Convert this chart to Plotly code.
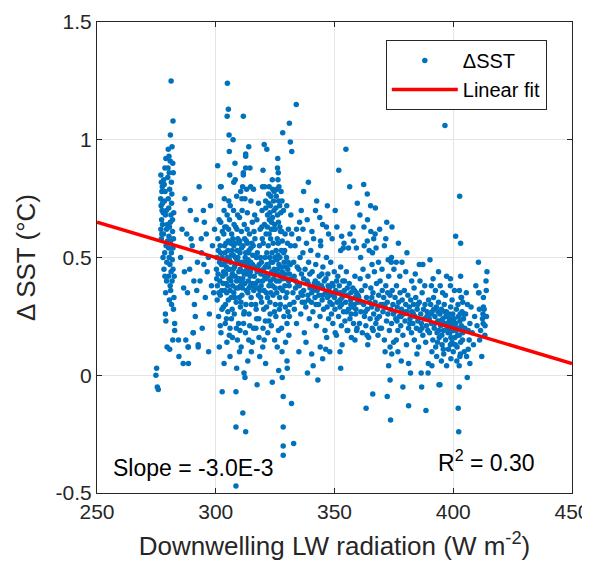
import plotly.graph_objects as go

# ---- Data: (Downwelling LW radiation [W m-2], delta SST [degC]) ----
band_275_284 = [
    (275.1, 0.03), (274.8, 0.00), (275.4, -0.05), (275.8, -0.06),
    (276.9, 0.85), (277.1, 0.82), (277.3, 0.78), (276.8, 0.75), (277.0, 0.72), (277.4, 0.70), (277.2, 0.66),
    (276.9, 0.62), (277.5, 0.80), (277.1, 0.58),
    (278.2, 0.45), (278.5, 0.52), (278.0, 0.60), (278.8, 0.68), (278.4, 0.74), (279.0, 0.92), (278.6, 0.88),
    (279.3, 0.40), (278.9, 0.35), (279.1, 0.55),
    (280.0, 0.96), (280.3, 0.93), (279.8, 0.84), (280.6, 0.79), (280.2, 0.71), (280.9, 0.65), (280.5, 0.63),
    (281.0, 0.57), (280.4, 0.50), (280.7, 0.47), (281.2, 0.44), (280.1, 0.42), (280.8, 0.38), (281.4, 0.30),
    (281.6, 0.97), (281.9, 0.90), (282.1, 0.86), (281.5, 0.77), (282.3, 0.69), (281.8, 0.61), (282.0, 0.54),
    (281.7, 0.49), (282.4, 0.33), (282.2, 0.28),
    (279.0, 0.23), (282.7, 0.22), (282.7, 0.19), (281.9, 0.15), (284.3, 0.15),
    (281.2, 1.25), (282.0, 1.08), (280.9, 1.02),
    (278.8, 0.26), (279.5, 0.12), (277.8, 0.50), (280.6, 0.11),
    (279.6, 0.64), (280.0, 0.75), (281.3, 0.82), (279.9, 0.88), (278.3, 0.81), (277.6, 0.64), (280.3, 0.59),
    (281.1, 0.68), (279.4, 0.48), (282.5, 0.42),
    (277.3, 0.60), (277.6, 0.73), (278.1, 0.83), (278.7, 0.78), (279.2, 0.70), (279.7, 0.57), (280.4, 0.86),
    (280.8, 0.91), (281.4, 0.73), (281.8, 0.66), (282.2, 0.58), (282.0, 0.45), (281.3, 0.52), (280.2, 0.54),
    (279.3, 0.62), (278.6, 0.42), (277.9, 0.69), (281.0, 0.36), (280.5, 0.32), (281.6, 0.40),
]

band_284_300 = [
    (284.5, 0.08), (285.2, 0.50), (285.8, 0.62), (286.3, 0.05), (286.5, 0.37), (287.0, 0.75), (287.4, 0.15),
    (288.1, 0.35), (288.4, 0.12), (288.5, 0.05), (289.0, 0.45), (289.6, 0.58), (290.1, 0.55), (290.5, 0.18),
    (291.0, 0.30), (291.4, 0.25), (291.8, 0.66), (292.3, 0.48), (292.6, 0.12), (293.0, 0.80), (293.4, 0.40),
    (293.9, 0.58), (294.3, 0.20), (294.8, 0.70), (295.2, 0.65), (295.6, 0.33), (296.0, 0.60), (296.4, 0.44),
    (296.9, 0.50), (297.3, 0.26), (297.8, 0.72), (298.2, 0.38), (298.6, 0.55), (299.1, 0.35), (299.5, 0.62),
    (287.8, 0.60), (290.8, 0.40), (294.0, 0.52), (297.0, 0.10), (289.3, 0.70), (286.8, 0.44), (292.0, 0.36),
    (295.0, 0.47), (290.5, 0.18), (288.4, 0.12), (292.6, 0.13),
]

band_300_316 = [
    (304.9, 1.24), (305.3, 1.13), (304.8, 1.10), (311.6, 1.10), (305.6, 1.02), (307.3, 1.00), (305.7, 0.95),
    (313.9, 0.97), (312.6, 0.94), (312.6, 0.93), (300.8, 0.89), (312.6, 0.88), (314.4, 0.88), (311.6, 0.86),
    (311.6, 0.85), (308.2, 0.83), (302.0, 0.80), (302.3, 0.80), (311.3, 0.80), (313.0, 0.79), (314.7, 0.80),
    (315.9, 0.79), (308.8, 0.76), (311.0, 0.75), (314.8, 0.74), (305.5, 0.74),
    (308.5, -0.47), (302.7, -0.07), (308.5, -0.07), (311.4, -0.16), (308.5, -0.22), (312.6, -0.24),
    (308.8, 0.03), (311.9, 0.01), (312.3, -0.01), (303.5, 0.05), (306.0, 0.08), (310.0, 0.10), (313.5, 0.06),
    (301.5, 0.12), (315.0, 0.10),
    (300.3, 0.45), (300.6, 0.32), (300.9, 0.58), (301.2, 0.25), (301.4, 0.66), (301.7, 0.40), (302.0, 0.52),
    (302.2, 0.18), (302.5, 0.36), (302.8, 0.61), (303.0, 0.47), (303.2, 0.29), (303.5, 0.70), (303.7, 0.55),
    (304.0, 0.22), (304.2, 0.43), (304.4, 0.63), (304.6, 0.35), (304.9, 0.50), (305.1, 0.27), (305.3, 0.57),
    (305.6, 0.41), (305.8, 0.66), (306.0, 0.20), (306.2, 0.48), (306.5, 0.33), (306.7, 0.60), (306.9, 0.53),
    (307.1, 0.38), (307.3, 0.45), (307.5, 0.70), (307.8, 0.26), (308.0, 0.56), (308.2, 0.42), (308.4, 0.63),
    (308.6, 0.31), (308.9, 0.49), (309.1, 0.15), (309.3, 0.58), (309.5, 0.37), (309.7, 0.44), (310.0, 0.67),
    (310.2, 0.52), (310.4, 0.29), (310.6, 0.40), (310.8, 0.61), (311.0, 0.34), (311.3, 0.47), (311.5, 0.55),
    (311.7, 0.22), (312.0, 0.64), (312.2, 0.39), (312.4, 0.50), (312.7, 0.30), (312.9, 0.57), (313.1, 0.45),
    (313.3, 0.69), (313.5, 0.35), (313.8, 0.52), (314.0, 0.26), (314.2, 0.60), (314.5, 0.42), (314.7, 0.48),
    (314.9, 0.33), (315.2, 0.56), (315.4, 0.65), (315.7, 0.38), (315.9, 0.20),
    (300.5, 0.50), (301.0, 0.43), (301.8, 0.55), (302.4, 0.47), (303.1, 0.39), (303.9, 0.52), (304.5, 0.46),
    (305.0, 0.38), (305.7, 0.49), (306.3, 0.56), (306.8, 0.42), (307.4, 0.51), (307.9, 0.46), (308.5, 0.37),
    (309.0, 0.53), (309.6, 0.48), (310.3, 0.45), (310.9, 0.54), (311.4, 0.41), (312.1, 0.48), (312.8, 0.43),
    (313.4, 0.56), (314.1, 0.46), (314.8, 0.54), (315.5, 0.47),
    (301.3, 0.35), (302.6, 0.28), (303.4, 0.60), (304.1, 0.30), (305.4, 0.62), (306.6, 0.24), (307.7, 0.64),
    (308.7, 0.20), (309.9, 0.33), (311.1, 0.70), (312.5, 0.18), (313.7, 0.40), (315.0, 0.30), (306.1, 0.72),
    (309.2, 0.68), (312.3, 0.75), (304.7, 0.14), (310.7, 0.12), (307.0, 0.16), (313.9, 0.15), (303.6, 0.75),
    (305.9, 0.85), (308.1, 0.90), (310.5, 0.78), (307.6, 0.82),
    (300.7, 0.38), (301.6, 0.48), (302.9, 0.42), (303.8, 0.36), (304.3, 0.56), (305.2, 0.45), (306.4, 0.40),
    (307.2, 0.58), (308.3, 0.50), (309.4, 0.41), (310.1, 0.57), (311.2, 0.37), (312.6, 0.52), (313.6, 0.49),
    (314.6, 0.38), (315.6, 0.51), (302.1, 0.65), (304.8, 0.68), (307.6, 0.35), (310.6, 0.31), (313.2, 0.62),
    (305.3, 0.32), (308.9, 0.62), (312.0, 0.27),
    (300.4, 0.41), (301.1, 0.53), (301.9, 0.34), (302.7, 0.50), (303.3, 0.44), (303.8, 0.63), (304.4, 0.39),
    (305.1, 0.53), (305.9, 0.45), (306.5, 0.51), (307.0, 0.43), (307.6, 0.55), (308.2, 0.47), (308.8, 0.40),
    (309.3, 0.50), (309.8, 0.56), (310.4, 0.38), (310.9, 0.48), (311.5, 0.44), (312.2, 0.58), (312.9, 0.36),
    (313.4, 0.47), (314.0, 0.53), (314.6, 0.44), (315.3, 0.39), (315.8, 0.55), (304.0, 0.48), (306.0, 0.36),
    (308.0, 0.33), (310.0, 0.41), (312.0, 0.43), (314.0, 0.37),
    (301.9, 0.21), (304.5, 0.24), (306.9, 0.28), (309.6, 0.22), (311.8, 0.26), (314.3, 0.21), (305.7, 0.17),
    (310.2, 0.19), (315.4, 0.14),
]

band_316_332 = [
    (320.4, 0.98), (321.5, 0.96), (326.1, 0.92), (326.0, 0.88), (326.3, 0.86), (319.9, 0.87), (323.8, 0.83),
    (326.2, 0.83), (319.7, 0.80), (320.6, 0.80), (328.2, 1.03), (331.0, 1.07), (331.4, 0.99), (333.9, 1.15),
    (332.0, 0.95),
    (328.4, -0.09), (328.4, -0.22), (328.4, -0.30), (332.8, -0.29), (328.4, -0.34), (323.8, -0.03),
    (317.4, -0.04), (328.0, -0.01), (321.0, 0.05), (331.9, -0.12), (326.5, 0.02), (318.5, 0.08), (330.0, 0.06),
    (316.2, 0.42), (316.5, 0.58), (316.8, 0.30), (317.1, 0.50), (317.3, 0.66), (317.6, 0.37), (317.9, 0.45),
    (318.1, 0.24), (318.4, 0.55), (318.7, 0.62), (318.9, 0.33), (319.2, 0.48), (319.5, 0.70), (319.7, 0.40),
    (320.0, 0.56), (320.2, 0.28), (320.5, 0.64), (320.8, 0.46), (321.0, 0.74), (321.3, 0.35), (321.5, 0.52),
    (321.8, 0.68), (322.0, 0.42), (322.3, 0.77), (322.5, 0.60), (322.8, 0.31), (323.0, 0.72), (323.3, 0.48),
    (323.5, 0.65), (323.8, 0.38), (324.0, 0.79), (324.2, 0.56), (324.5, 0.70), (324.7, 0.27), (325.0, 0.62),
    (325.2, 0.44), (325.5, 0.76), (325.7, 0.35), (326.0, 0.68), (326.2, 0.51), (326.5, 0.74), (326.7, 0.40),
    (327.0, 0.63), (327.2, 0.30), (327.5, 0.78), (327.7, 0.46), (328.0, 0.57), (328.2, 0.36), (328.5, 0.70),
    (328.7, 0.25), (329.0, 0.43), (329.2, 0.60), (329.5, 0.33), (329.8, 0.50), (330.0, 0.22), (330.3, 0.45),
    (330.6, 0.62), (330.9, 0.38), (331.2, 0.30), (331.5, 0.55), (331.8, 0.41),
    (316.9, 0.20), (318.2, 0.16), (319.8, 0.12), (321.9, 0.18), (323.4, 0.21), (324.8, 0.15), (326.4, 0.19),
    (327.9, 0.10), (329.4, 0.14), (330.8, 0.17),
    (317.5, 0.52), (319.0, 0.43), (320.7, 0.50), (322.1, 0.55), (323.6, 0.44), (324.9, 0.50), (326.6, 0.47),
    (327.6, 0.53), (329.1, 0.38), (330.5, 0.48), (322.6, 0.66), (324.4, 0.62), (325.9, 0.58), (327.4, 0.69),
    (323.1, 0.58), (325.4, 0.53), (321.2, 0.60), (328.8, 0.48), (318.0, 0.73), (329.9, 0.72), (331.6, 0.68),
    (316.4, 0.68), (320.3, 0.36), (325.1, 0.30), (327.1, 0.37), (322.9, 0.26), (326.8, 0.28), (324.1, 0.34),
    (328.3, 0.41), (331.0, 0.25), (316.0, 0.36), (317.0, 0.28), (319.3, 0.31), (320.9, 0.23), (323.2, 0.35),
    (326.9, 0.33),
    (316.6, 0.46), (317.8, 0.40), (318.8, 0.50), (319.6, 0.58), (320.6, 0.42), (321.6, 0.47), (322.4, 0.38),
    (323.7, 0.52), (324.6, 0.45), (325.6, 0.40), (326.3, 0.56), (327.3, 0.43), (328.6, 0.52), (329.6, 0.46),
    (330.7, 0.40), (331.4, 0.47), (316.1, 0.61), (318.6, 0.36), (321.4, 0.29), (324.3, 0.41), (327.8, 0.61),
    (330.2, 0.56), (319.4, 0.63), (322.7, 0.50), (326.1, 0.43), (329.3, 0.29),
    (321.1, 0.71), (321.7, 0.63), (322.2, 0.73), (322.8, 0.69), (323.2, 0.76), (323.9, 0.67), (324.3, 0.74),
    (324.8, 0.64), (325.3, 0.71), (325.8, 0.79), (326.4, 0.65), (326.9, 0.72), (327.3, 0.61), (327.9, 0.74),
    (322.5, 0.80), (324.6, 0.78), (326.6, 0.80), (323.4, 0.62),
    (316.7, 0.39), (317.4, 0.44), (318.3, 0.47), (319.1, 0.38), (320.1, 0.45), (321.1, 0.41), (322.2, 0.46),
    (323.0, 0.40), (324.0, 0.48), (325.0, 0.37), (326.0, 0.45), (327.0, 0.50), (328.0, 0.44), (329.0, 0.53),
    (330.0, 0.35), (331.0, 0.43), (318.0, 0.34), (321.8, 0.33), (325.8, 0.49), (329.7, 0.41),
    (317.2, 0.24), (319.9, 0.20), (322.4, 0.23), (325.3, 0.25), (327.7, 0.20), (330.4, 0.27), (320.4, 0.15),
    (325.9, 0.12),
]

band_332_360 = [
    (354.8, 0.96), (351.8, 0.87), (356.4, 0.80), (350.3, 0.70), (345.0, 0.64), (346.6, 0.63), (357.8, 0.63),
    (335.3, 0.65), (336.7, 0.62), (332.0, 0.60), (353.0, 0.59), (344.1, 0.57), (353.7, 0.54), (355.9, 0.54),
    (359.2, 0.54), (352.6, 0.53), (359.6, 0.73), (339.0, 0.82), (337.0, 0.78), (347.0, 0.72), (342.0, 0.70),
    (338.6, 0.01), (343.0, -0.02), (341.0, 0.04), (345.0, 0.07), (348.0, 0.10), (352.6, 0.03), (330.1, 0.03),
    (346.3, 0.11), (346.7, 0.16), (350.3, 0.18), (352.3, 0.10), (353.2, 0.13), (355.6, 0.19), (358.6, 0.15),
    (359.3, 0.19), (340.4, 0.09), (344.0, 0.12), (338.0, 0.14), (335.0, 0.10),
    (332.5, 0.35), (332.8, 0.48), (333.1, 0.28), (333.4, 0.55), (333.7, 0.40), (334.0, 0.22), (334.3, 0.46),
    (334.6, 0.33), (334.9, 0.58), (335.2, 0.38), (335.5, 0.50), (335.8, 0.26), (336.1, 0.43), (336.4, 0.31),
    (336.7, 0.52), (337.0, 0.36), (337.3, 0.18), (337.6, 0.45), (337.9, 0.29), (338.2, 0.56), (338.5, 0.40),
    (338.8, 0.34), (339.1, 0.48), (339.4, 0.24), (339.7, 0.37), (340.0, 0.53), (340.3, 0.31), (340.6, 0.44),
    (340.9, 0.27), (341.2, 0.58), (341.5, 0.39), (341.8, 0.33), (342.1, 0.47), (342.4, 0.21), (342.7, 0.36),
    (343.0, 0.51), (343.3, 0.30), (343.6, 0.42), (343.9, 0.25), (344.2, 0.55), (344.5, 0.38), (344.8, 0.32),
    (345.1, 0.46), (345.4, 0.28), (345.7, 0.40), (346.0, 0.19), (346.3, 0.35), (346.6, 0.50), (346.9, 0.29),
    (347.2, 0.43), (347.5, 0.24), (347.8, 0.37), (348.1, 0.31), (348.4, 0.48), (348.7, 0.26), (349.0, 0.39),
    (349.3, 0.22), (349.6, 0.34), (349.9, 0.44), (350.2, 0.28), (350.5, 0.36), (350.8, 0.17), (351.1, 0.31),
    (351.4, 0.42), (351.7, 0.25), (352.0, 0.38), (352.3, 0.29), (352.6, 0.46), (352.9, 0.21), (353.2, 0.33),
    (353.5, 0.40), (353.8, 0.27), (354.1, 0.36), (354.4, 0.23), (354.7, 0.31), (355.0, 0.44), (355.3, 0.19),
    (355.6, 0.34), (355.9, 0.28), (356.2, 0.39), (356.5, 0.24), (356.8, 0.32), (357.1, 0.16), (357.4, 0.29),
    (357.7, 0.37), (358.0, 0.22), (358.3, 0.30), (358.6, 0.42), (358.9, 0.26), (359.2, 0.35), (359.5, 0.20),
    (359.8, 0.31),
    (334.0, 0.62), (336.0, 0.70), (338.5, 0.66), (340.5, 0.61), (342.5, 0.74), (343.8, 0.67), (347.5, 0.60),
    (349.0, 0.58), (351.0, 0.63), (354.0, 0.56), (356.5, 0.60), (358.0, 0.57),
    (333.0, 0.42), (335.0, 0.45), (337.0, 0.41), (339.0, 0.32), (341.0, 0.36), (343.0, 0.39), (345.0, 0.34),
    (347.0, 0.33), (349.0, 0.30), (351.0, 0.35), (353.0, 0.30), (355.0, 0.27), (357.0, 0.26), (359.0, 0.28),
    (333.6, 0.37), (336.5, 0.34), (339.6, 0.43), (342.2, 0.30), (344.7, 0.43), (347.3, 0.38), (350.0, 0.33),
    (352.5, 0.35), (354.2, 0.40), (356.9, 0.35), (358.7, 0.33),
    (332.9, 0.31), (334.4, 0.39), (335.9, 0.35), (337.4, 0.31), (338.9, 0.39), (340.4, 0.35), (341.9, 0.40),
    (343.4, 0.34), (344.9, 0.37), (346.4, 0.41), (347.9, 0.34), (349.4, 0.38), (350.9, 0.40), (352.4, 0.32),
    (353.9, 0.34), (355.4, 0.37), (356.9, 0.30), (358.4, 0.36), (359.9, 0.34),
]

band_360_390 = [
    (362.3, 0.81), (363.8, 0.77), (365.2, 0.72), (367.2, 0.71), (360.7, 0.68), (363.9, 0.66), (362.4, 0.63),
    (374.2, 0.63), (365.3, 0.61), (367.1, 0.60), (371.6, 0.58), (363.8, 0.57), (376.9, 0.56), (364.6, 0.53),
    (367.5, 0.54), (372.6, 0.49), (373.9, 0.48), (365.8, 0.47), (378.4, 0.48), (385.7, 0.47), (387.2, 0.47),
    (374.0, 0.50),
    (360.2, 0.33), (360.5, 0.22), (360.8, 0.41), (361.1, 0.27), (361.4, 0.36), (361.7, 0.18), (362.0, 0.45),
    (362.3, 0.30), (362.6, 0.25), (362.9, 0.38), (363.2, 0.21), (363.5, 0.33), (363.8, 0.28), (364.1, 0.42),
    (364.4, 0.16), (364.7, 0.31), (365.0, 0.24), (365.3, 0.37), (365.6, 0.29), (365.9, 0.20), (366.2, 0.35),
    (366.5, 0.26), (366.8, 0.44), (367.1, 0.31), (367.4, 0.22), (367.7, 0.39), (368.0, 0.28), (368.3, 0.17),
    (368.6, 0.34), (368.9, 0.25), (369.2, 0.40), (369.5, 0.30), (369.8, 0.20), (370.1, 0.36), (370.4, 0.27),
    (370.7, 0.33), (371.0, 0.15), (371.3, 0.29), (371.6, 0.38), (371.9, 0.23), (372.2, 0.31), (372.5, 0.26),
    (372.8, 0.42), (373.1, 0.19), (373.4, 0.34), (373.7, 0.28), (374.0, 0.22), (374.3, 0.36), (374.6, 0.30),
    (374.9, 0.14), (375.2, 0.27), (375.5, 0.33), (375.8, 0.24), (376.1, 0.38), (376.4, 0.29), (376.7, 0.19),
    (377.0, 0.31), (377.3, 0.25), (377.6, 0.35), (377.9, 0.21), (378.2, 0.28), (378.5, 0.32), (378.8, 0.17),
    (379.1, 0.26), (379.4, 0.36), (379.7, 0.23), (380.0, 0.30), (380.3, 0.13), (380.6, 0.27), (380.9, 0.34),
    (381.2, 0.20), (381.5, 0.29), (381.8, 0.24), (382.1, 0.32), (382.4, 0.18), (382.7, 0.27), (383.0, 0.22),
    (383.3, 0.30), (383.6, 0.15), (383.9, 0.25), (384.2, 0.33), (384.5, 0.20), (384.8, 0.28), (385.1, 0.23),
    (385.4, 0.12), (385.7, 0.31), (386.0, 0.19), (386.3, 0.26), (386.6, 0.22), (386.9, 0.35), (387.2, 0.17),
    (387.5, 0.28), (387.8, 0.24), (388.1, 0.30), (388.4, 0.14), (388.7, 0.21), (389.0, 0.27), (389.3, 0.19),
    (389.6, 0.32), (389.9, 0.24),
    (373.4, -0.02), (366.1, -0.08), (363.3, -0.14), (372.2, -0.09), (373.6, -0.19), (381.2, -0.13),
    (378.8, -0.05), (386.7, -0.05), (388.5, -0.15), (382.0, 0.01), (386.5, 0.01), (389.4, 0.01), (372.8, 0.04),
    (378.1, 0.06), (381.2, 0.05), (384.7, 0.09), (389.5, 0.05), (364.0, 0.13), (371.3, 0.10), (374.1, 0.09),
    (376.7, 0.10), (373.4, 0.12), (376.0, 0.15), (363.7, 0.17), (366.3, 0.19), (369.0, 0.20),
    (361.0, 0.50), (362.5, 0.55), (366.0, 0.52), (368.5, 0.48), (370.0, 0.45), (371.0, 0.55), (375.0, 0.45),
    (377.5, 0.42), (380.0, 0.44), (382.5, 0.40), (384.0, 0.43), (386.0, 0.40), (388.0, 0.38), (369.0, 0.62),
    (372.0, 0.65), (366.5, 0.58), (380.5, 0.52), (383.5, 0.37), (376.0, 0.48),
    (361.2, 0.31), (363.0, 0.27), (365.7, 0.33), (367.9, 0.24), (370.5, 0.30), (372.4, 0.35), (374.8, 0.26),
    (376.3, 0.23), (378.0, 0.25), (379.9, 0.27), (381.7, 0.22), (383.2, 0.26), (385.0, 0.30), (386.8, 0.20),
    (388.9, 0.25),
]

band_390_405 = [
    (396.5, 1.06), (402.7, 0.76), (401.0, 0.59), (403.1, 0.56), (390.2, 0.49), (397.2, 0.42), (398.8, 0.41),
    (403.1, 0.42), (390.8, 0.38), (398.8, 0.38), (395.5, 0.35), (402.6, 0.36), (403.5, 0.33), (403.3, 0.33),
    (402.5, 0.04), (402.5, -0.05), (402.1, -0.14), (402.3, -0.24), (394.4, -0.04), (397.2, 0.04), (391.0, 0.04),
    (402.8, 0.08), (394.0, -0.04),
    (390.5, 0.30), (390.8, 0.22), (391.1, 0.27), (391.4, 0.15), (391.7, 0.33), (392.0, 0.20), (392.3, 0.25),
    (392.6, 0.12), (392.9, 0.29), (393.2, 0.18), (393.5, 0.23), (393.8, 0.31), (394.1, 0.16), (394.4, 0.26),
    (394.7, 0.21), (395.0, 0.28), (395.3, 0.13), (395.6, 0.24), (395.9, 0.19), (396.2, 0.30), (396.5, 0.22),
    (396.8, 0.15), (397.1, 0.27), (397.4, 0.20), (397.7, 0.25), (398.0, 0.11), (398.3, 0.23), (398.6, 0.18),
    (398.9, 0.29), (399.2, 0.21), (399.5, 0.14), (399.8, 0.26), (400.1, 0.19), (400.4, 0.24), (400.7, 0.16),
    (401.0, 0.22), (401.3, 0.28), (401.6, 0.12), (401.9, 0.20), (402.2, 0.25), (402.5, 0.17), (402.8, 0.23),
    (403.1, 0.14), (403.4, 0.21), (403.7, 0.27), (404.0, 0.18), (404.3, 0.24), (404.6, 0.10), (404.9, 0.20),
    (391.0, 0.10), (393.0, 0.08), (395.0, 0.06), (396.0, 0.09), (399.0, 0.07), (400.0, 0.10), (401.5, 0.06),
    (403.0, 0.09), (392.5, 0.36), (394.5, 0.38), (396.7, 0.34), (399.5, 0.32), (400.5, 0.36), (404.0, 0.31),
    (391.5, 0.41), (393.8, 0.44), (397.8, 0.18), (399.0, 0.16), (400.8, 0.20), (395.2, 0.17), (393.6, 0.27),
    (398.2, 0.26), (402.0, 0.30), (390.0, 0.18),
    (390.6, 0.26), (392.2, 0.22), (393.9, 0.19), (395.4, 0.22), (396.9, 0.25), (398.5, 0.20), (400.2, 0.22),
    (401.8, 0.17), (403.6, 0.19), (404.5, 0.26), (391.8, 0.28), (394.2, 0.23), (396.4, 0.27), (397.9, 0.22),
    (399.4, 0.24), (401.2, 0.19), (402.9, 0.26), (393.4, 0.14), (395.8, 0.11), (398.8, 0.13), (400.9, 0.13),
    (403.9, 0.15),
]

band_405_415 = [
    (405.6, 0.08), (407.0, 0.05), (405.9, -0.01), (407.5, 0.29), (412.7, 0.29), (413.0, 0.28), (412.5, 0.26),
    (412.3, 0.24), (412.6, 0.22), (413.4, 0.21), (413.3, 0.17), (411.5, 0.19), (412.0, 0.08), (411.1, 0.15),
    (407.0, 0.22), (406.3, 0.19), (406.7, 0.15), (406.3, 0.11), (410.6, 0.48), (410.7, 0.35), (413.9, 0.36),
    (412.7, 0.33), (410.8, 0.35), (405.2, 0.26), (406.0, 0.30), (408.0, 0.18), (409.0, 0.25), (410.0, 0.21),
    (411.0, 0.28), (413.8, 0.40), (414.2, 0.44), (408.5, 0.13), (409.5, 0.38), (414.0, 0.25), (405.5, 0.35),
]

# Linear fit parameters (from the figure annotation)
fit_slope = -3.0e-3
fit_intercept = 1.40
fit_x_range = [250, 450]

x_ticks = [250, 300, 350, 400, 450]
y_ticks = [-0.5, 0, 0.5, 1, 1.5]
y_tick_labels = ["-0.5", "0", "0.5", "1", "1.5"]

# ---- Build figure ----
all_points = (band_275_284 + band_284_300 + band_300_316 + band_316_332 +
              band_332_360 + band_360_390 + band_390_405 + band_405_415)
sst_x = [p[0] for p in all_points]
sst_y = [p[1] for p in all_points]
fit_y = [fit_intercept + fit_slope * xv for xv in fit_x_range]

FONT = "Liberation Sans, Arial, Helvetica, sans-serif"
AX = "#262626"

fig = go.Figure()
fig.add_trace(go.Scatter(
    x=sst_x, y=sst_y, mode="markers", name="ΔSST",
    marker=dict(size=5.5, color="#0072BD", line=dict(width=0)),
))
fig.add_trace(go.Scatter(
    x=fit_x_range, y=fit_y, mode="lines", name="Linear fit",
    line=dict(color="#FF0000", width=3.5),
))

axis_common = dict(
    showline=True, linecolor=AX, linewidth=1, mirror="ticks",
    ticks="inside", ticklen=5, tickcolor=AX, tickwidth=1,
    showgrid=True, gridcolor="#E4E4E4", gridwidth=1,
    zeroline=False, automargin=False,
    tickfont=dict(family=FONT, size=21, color=AX),
)

fig.update_xaxes(
    range=[250, 450], tickvals=x_ticks, ticktext=[str(v) for v in x_ticks],
    title=dict(text="Downwelling LW radiation (W m<sup>-2</sup>)",
               font=dict(family=FONT, size=26, color=AX), standoff=14),
    **axis_common,
)
fig.update_yaxes(
    range=[-0.5, 1.5], tickvals=y_ticks, ticktext=y_tick_labels,
    title=dict(text="Δ SST (°C)", font=dict(family=FONT, size=26, color=AX), standoff=12),
    **axis_common,
)

fig.add_annotation(
    xref="paper", yref="paper", x=0.03, y=0.053, xanchor="left", yanchor="middle",
    text="Slope = -3.0E-3", showarrow=False, font=dict(family=FONT, size=23, color="#000000"),
)
fig.add_annotation(
    xref="paper", yref="paper", x=0.714, y=0.069, xanchor="left", yanchor="middle",
    text="R<sup>2</sup> = 0.30", showarrow=False, font=dict(family=FONT, size=23, color="#000000"),
)

# The page body has an 8 px margin, so the figure is sized to the remaining area.
fig.update_layout(
    width=582, height=561,
    margin=dict(l=89, r=18, t=14, b=76),
    paper_bgcolor="white", plot_bgcolor="white",
    showlegend=True,
    legend=dict(
        x=0.608, y=0.962, xanchor="left", yanchor="top",
        bgcolor="white", bordercolor=AX, borderwidth=1,
        font=dict(family=FONT, size=20, color="#000000"),
        itemwidth=66, tracegroupgap=0,
    ),
)

fig.write_html("out.html")
